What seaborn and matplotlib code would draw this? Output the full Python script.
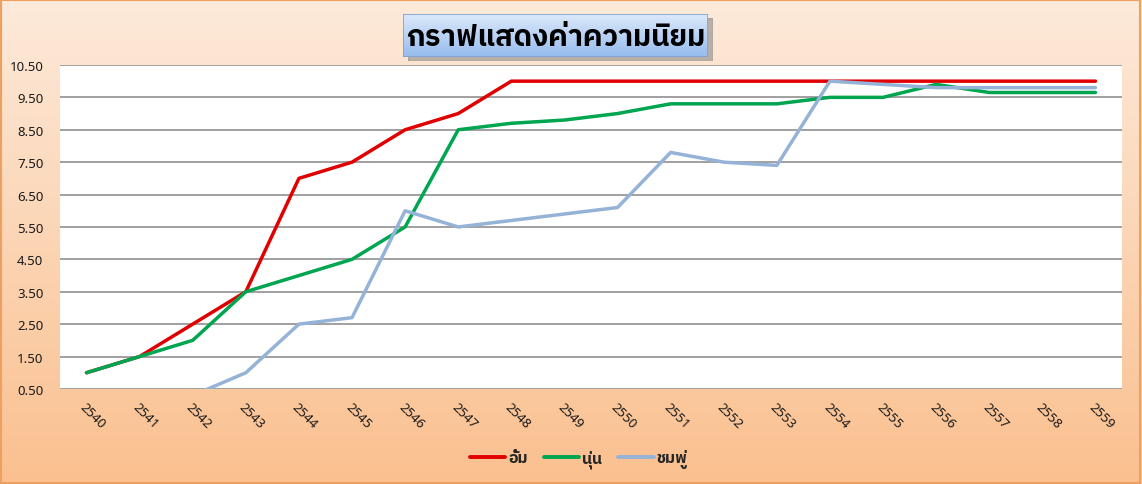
import numpy as np
import pandas as pd
import seaborn as sns
import matplotlib.pyplot as plt
from matplotlib.patches import Rectangle

years = [str(y) for y in range(2540, 2560)]
aum = [1.0, 1.5, 2.5, 3.5, 7.0, 7.5, 8.5, 9.0, 10.0, 10.0,
       10.0, 10.0, 10.0, 10.0, 10.0, 10.0, 10.0, 10.0, 10.0, 10.0]
noon = [1.0, 1.5, 2.0, 3.5, 4.0, 4.5, 5.5, 8.5, 8.7, 8.8,
        9.0, 9.3, 9.3, 9.3, 9.5, 9.5, 9.9, 9.65, 9.65, 9.65]
chomphu = [0.0, 0.0, 0.3, 1.0, 2.5, 2.7, 6.0, 5.5, 5.7, 5.9,
           6.1, 7.8, 7.5, 7.4, 10.0, 9.9, 9.8, 9.8, 9.8, 9.8]
names = ['อั้ม', 'นุ่น', 'ชมพู่']
colors = ['#E00000', '#00A550', '#95B3D7']
title = 'กราฟแสดงค่าความนิยม'

df = pd.DataFrame({'year': years * 3,
                   'value': aum + noon + chomphu,
                   'name': np.repeat(names, len(years))})

sns.set_style('white')
plt.rcParams['font.family'] = ['Noto Sans Thai', 'DejaVu Sans']
bold_thai = ['IBM Plex Sans Thai', 'Kanit', 'Noto Sans Thai']

fig = plt.figure(figsize=(11.42, 4.85), dpi=100)

# peach gradient background with thin orange border
bg = fig.add_axes([0, 0, 1, 1], zorder=-10)
grad = np.linspace(0, 1, 256)[:, None, None]
top = np.array([253, 234, 218]) / 255
bot = np.array([250, 192, 143]) / 255
bg.imshow(top + (bot - top) * grad, aspect='auto', extent=[0, 1, 0, 1])
bg.add_patch(Rectangle((0.001, 0.002), 0.997, 0.995, fill=False,
                       edgecolor='#EDA060', linewidth=1.5, transform=bg.transAxes))
bg.set_xlim(0, 1)
bg.set_ylim(0, 1)
bg.set_axis_off()

ax = fig.add_axes([0.0525, 0.196, 0.93, 0.668])
sns.lineplot(data=df, x='year', y='value', hue='name', palette=dict(zip(names, colors)),
             linewidth=2.5, ax=ax, legend=False, sort=False)
ax.set_facecolor('white')
ax.set_xlim(-0.5, len(years) - 0.5)
ax.set_ylim(0.5, 10.5)
ax.set_yticks(np.arange(0.5, 10.51, 1.0))
ax.yaxis.set_major_formatter(plt.FormatStrFormatter('%.2f'))
ax.grid(axis='y', color='#868686', linewidth=1.1)
ax.set_axisbelow(True)
for s in ax.spines.values():
    s.set_visible(False)
ax.set_xlabel('')
ax.set_ylabel('')
ax.tick_params(axis='y', labelsize=9.5, length=0, pad=12, labelcolor='#1a1a1a')
ax.tick_params(axis='x', labelsize=9.5, length=0, pad=8, labelcolor='#1a1a1a')
plt.setp(ax.get_xticklabels(), rotation=-45, ha='left', rotation_mode='anchor')

# title box: shadow + blue gradient + bold text
shadow = fig.add_axes([0.357, 0.872, 0.267, 0.0887], zorder=5)
shadow.add_patch(Rectangle((0, 0), 1, 1, color='#8a8a8a', alpha=0.6, transform=shadow.transAxes))
shadow.set_axis_off()
tbox = fig.add_axes([0.353, 0.880, 0.267, 0.0887], zorder=6)
tb_top = np.array([222, 234, 251]) / 255
tb_bot = np.array([150, 188, 238]) / 255
tbox.imshow(tb_top + (tb_bot - tb_top) * grad, aspect='auto', extent=[0, 1, 0, 1])
tbox.add_patch(Rectangle((0, 0), 1, 1, fill=False, edgecolor='#7F9FCF',
                         linewidth=1.2, transform=tbox.transAxes))
tbox.set_xlim(0, 1)
tbox.set_ylim(0, 1)
tbox.set_axis_off()
tbox.text(0.5, 0.47, title, ha='center', va='center', fontsize=21,
          fontweight='bold', color='black', family=bold_thai,
          transform=tbox.transAxes)

handles = [plt.Line2D([], [], color=c, linewidth=2.8) for c in colors]
fig.legend(handles, names, loc='center', bbox_to_anchor=(0.507, 0.052), ncol=3,
           frameon=False, handlelength=2.2, handletextpad=0.2, columnspacing=1.0,
           prop={'weight': 'bold', 'size': 11.5, 'family': bold_thai})

fig.savefig('out.png', dpi=100)
